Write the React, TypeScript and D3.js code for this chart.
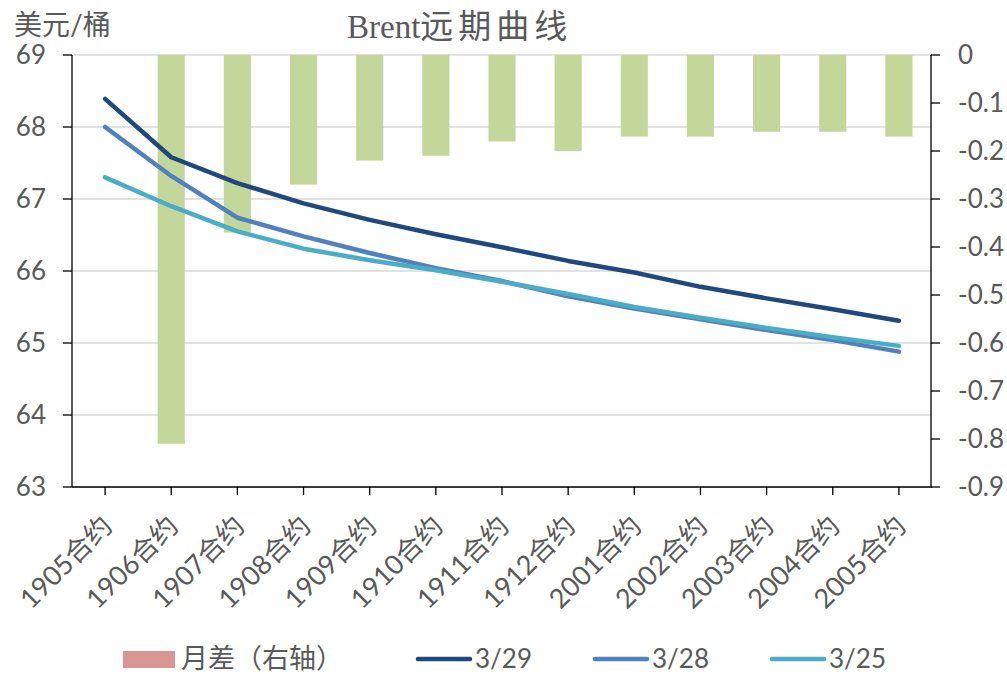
import React from 'react';
import * as d3 from 'd3';

// contract months
const categories = ['1905合约', '1906合约', '1907合约', '1908合约', '1909合约', '1910合约', '1911合约',
  '1912合约', '2001合约', '2002合约', '2003合约', '2004合约', '2005合约'];

// month spread (right axis)
const spread: (number | null)[] = [null, -0.81, -0.37, -0.27, -0.22, -0.21, -0.18, -0.20, -0.17, -0.17, -0.16, -0.16, -0.17];

// curves (left axis)
const curve0329 = [68.39, 67.58, 67.22, 66.94, 66.71, 66.51, 66.33, 66.14, 65.98, 65.78, 65.62, 65.47, 65.31];
const curve0328 = [68.0, 67.32, 66.74, 66.48, 66.25, 66.04, 65.86, 65.65, 65.48, 65.33, 65.18, 65.04, 64.88];
const curve0325 = [67.3, 66.9, 66.55, 66.31, 66.15, 66.01, 65.85, 65.68, 65.5, 65.35, 65.21, 65.08, 64.96];

const leftTicks = [63, 64, 65, 66, 67, 68, 69];
const rightTicks = [0, -0.1, -0.2, -0.3, -0.4, -0.5, -0.6, -0.7, -0.8, -0.9];

const series = [
  { name: '3/29', values: curve0329, color: '#1F497D' },
  { name: '3/28', values: curve0328, color: '#4F81BD' },
  { name: '3/25', values: curve0325, color: '#4BACC6' },
];

const font = 'Lato, "Noto Sans CJK SC", sans-serif';
const textColor = '#595959';

export default function App() {
  const width = 1007, height = 674;
  const left = 72, right = 932, top = 55, bottom = 487;

  const x = d3.scaleBand<string>().domain(categories).range([left, right]);
  const cx = (c: string) => (x(c) as number) + x.bandwidth() / 2;
  const yL = d3.scaleLinear().domain([63, 69]).range([bottom, top]);
  const yR = d3.scaleLinear().domain([-0.9, 0]).range([bottom, top]);
  const barW = x.bandwidth() * 0.41;

  const line = d3.line<number>()
    .x((d, i) => cx(categories[i]))
    .y(d => yL(d));

  const axisR = 931;

  return (
    <svg width={width} height={height} style={{ position: 'absolute', left: 0, top: 0, background: '#fff' }}>
      <rect width={width} height={height} fill="#fff" />
      {/* gridlines */}
      {leftTicks.map(t => (
        <line key={'g' + t} x1={left} x2={right} y1={yL(t)} y2={yL(t)} stroke="#D9D9D9" strokeWidth={1.5} />
      ))}
      {/* bars */}
      {spread.map((v, i) => v == null ? null : (
        <rect key={'b' + i} x={cx(categories[i]) - barW / 2} width={barW}
          y={yR(0)} height={yR(v) - yR(0)} fill="#C4D79B" />
      ))}
      {/* lines */}
      {series.map(s => (
        <path key={s.name} d={line(s.values) || ''} fill="none" stroke={s.color} strokeWidth={4.5}
          strokeLinecap="round" strokeLinejoin="round" />
      ))}
      {/* left axis */}
      <line x1={left} x2={left} y1={top} y2={bottom} stroke="#000" strokeWidth={1.3} />
      {leftTicks.map(t => (
        <g key={'l' + t}>
          <line x1={left - 9} x2={left} y1={yL(t)} y2={yL(t)} stroke="#000" strokeWidth={1.3} />
          <text x={46} y={yL(t)} dy="0.35em" textAnchor="end" fontFamily={font} fontSize={26} fill={textColor}>{t}</text>
        </g>
      ))}
      {/* right axis */}
      <line x1={axisR} x2={axisR} y1={top} y2={bottom} stroke="#000" strokeWidth={1.3} />
      {rightTicks.map(t => (
        <g key={'r' + t}>
          <line x1={axisR} x2={axisR + 9} y1={yR(t)} y2={yR(t)} stroke="#000" strokeWidth={1.3} />
          <text x={958} y={yR(t)} dy="0.35em" textAnchor="start" fontFamily={font} fontSize={26} fill={textColor}>{t === 0 ? '0' : t.toFixed(1)}</text>
        </g>
      ))}
      {/* bottom axis */}
      <line x1={left} x2={right} y1={bottom} y2={bottom} stroke="#000" strokeWidth={1.3} />
      {categories.map(c => (
        <g key={'x' + c}>
          <line x1={cx(c)} x2={cx(c)} y1={bottom} y2={bottom + 8} stroke="#000" strokeWidth={1.3} />
          <text transform={`translate(${cx(c) + 2},${bottom + 34}) rotate(-45)`} dy="0.35em" textAnchor="end"
            fontFamily={font} fontSize={27} fill={textColor}>{c}</text>
        </g>
      ))}
      {/* titles */}
      <text x={14} y={35} fontFamily={font} fontSize={28} fill={textColor}>美元/桶</text>
      <text x={347} y={38} fontSize={33} fill={textColor}>
        <tspan fontFamily='"Liberation Serif", serif'>Brent</tspan>
        <tspan fontFamily='"Noto Sans CJK SC", sans-serif' letterSpacing={5}>远期曲线</tspan>
      </text>
      {/* legend */}
      <rect x={123} y={651} width={52} height={17} fill="#DA9694" />
      <text x={181} y={659} dy="0.35em" fontFamily={font} fontSize={27} fill={textColor}>月差（右轴）</text>
      {series.map((s, i) => {
        const lx = [418, 595, 772][i];
        return (
          <g key={'lg' + s.name}>
            <line x1={lx} x2={lx + 52} y1={659} y2={659} stroke={s.color} strokeWidth={4.5} strokeLinecap="round" />
            <text x={lx + 57} y={659} dy="0.35em" fontFamily={font} fontSize={26} fill={textColor}>{s.name}</text>
          </g>
        );
      })}
    </svg>
  );
}
